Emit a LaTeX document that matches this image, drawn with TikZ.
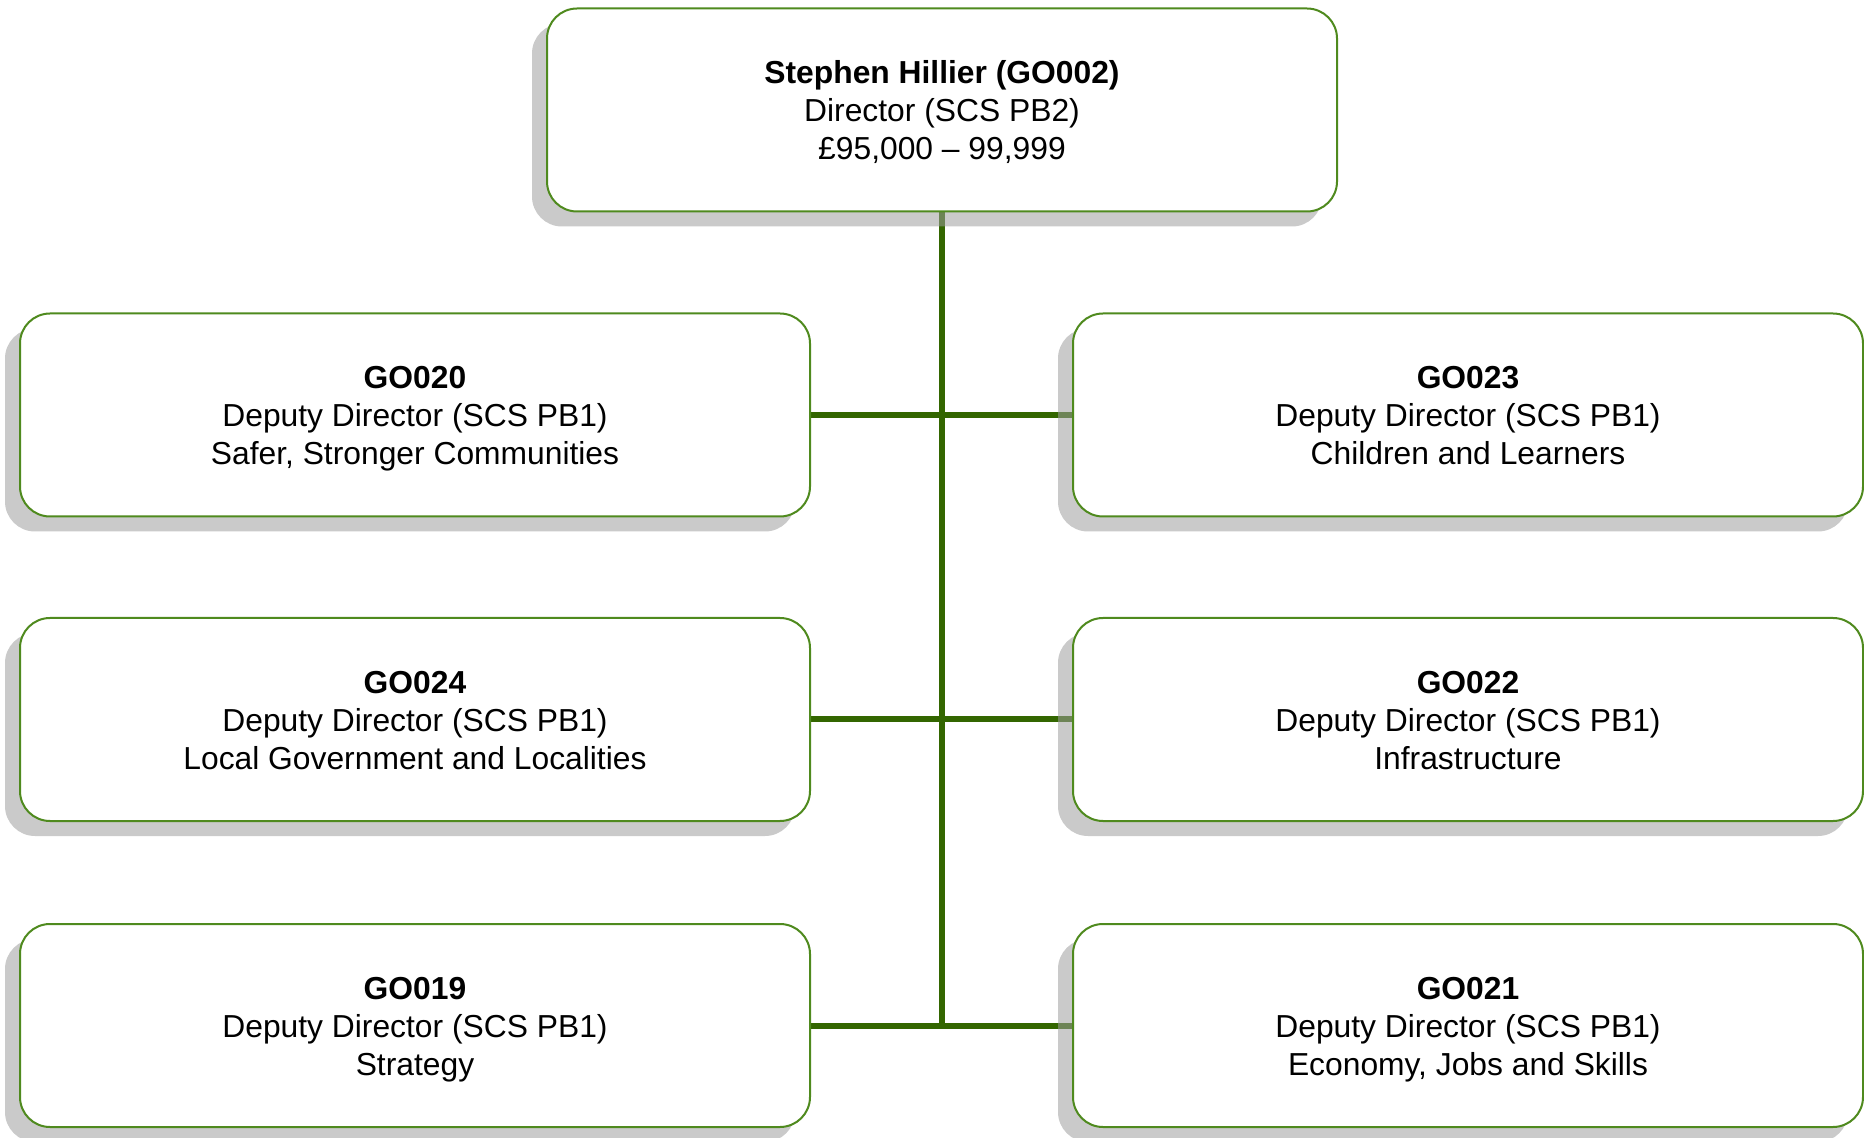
\documentclass[tikz,border=0pt]{standalone}
\usepackage{fontspec}
\setmainfont{Liberation Sans}
\usetikzlibrary{shadows,backgrounds}
\definecolor{boxline}{HTML}{4F8A1E}
\definecolor{connector}{HTML}{336600}
\newcommand{\boxhead}[1]{\rule{0pt}{15.4pt}\textbf{#1}}
\newcommand{\boxtail}{\rule[-3.4pt]{0pt}{3.4pt}}
\tikzset{
  orgbox/.style={draw=boxline, line width=1pt, fill=white, rounded corners=15pt,
    minimum width=395pt, minimum height=101.5pt, align=center,
    font=\fontsize{15.9pt}{19pt}\selectfont,
    drop shadow={shadow xshift=-7.5pt, shadow yshift=-7.5pt, fill=black!38, opacity=0.55}},
  link/.style={draw=connector, line width=3pt}
}
\begin{document}
\begin{tikzpicture}[x=0.5pt,y=-0.5pt]
\useasboundingbox (0,0) rectangle (1864,1138);
\node[orgbox] (top) at (942,110) {\boxhead{Stephen Hillier (GO002)}\\Director (SCS PB2)\\£95,000 – 99,999\boxtail};
\node[orgbox] (l1) at (415,415) {\boxhead{GO020}\\Deputy Director (SCS PB1)\\Safer, Stronger Communities\boxtail};
\node[orgbox] (r1) at (1468,415) {\boxhead{GO023}\\Deputy Director (SCS PB1)\\Children and Learners\boxtail};
\node[orgbox] (l2) at (415,719.5) {\boxhead{GO024}\\Deputy Director (SCS PB1)\\Local Government and Localities\boxtail};
\node[orgbox] (r2) at (1468,719.5) {\boxhead{GO022}\\Deputy Director (SCS PB1)\\Infrastructure\boxtail};
\node[orgbox] (l3) at (415,1025.5) {\boxhead{GO019}\\Deputy Director (SCS PB1)\\Strategy\boxtail};
\node[orgbox] (r3) at (1468,1025.5) {\boxhead{GO021}\\Deputy Director (SCS PB1)\\Economy, Jobs and Skills\boxtail};
\begin{scope}[on background layer]
\coordinate (vend) at (top.south |- l3.east);
\draw[link] (top.south) -- (vend);
\draw[link] (l1.east) -- (r1.west);
\draw[link] (l2.east) -- (r2.west);
\draw[link] (l3.east) -- (r3.west);
\end{scope}
\end{tikzpicture}
\end{document}
